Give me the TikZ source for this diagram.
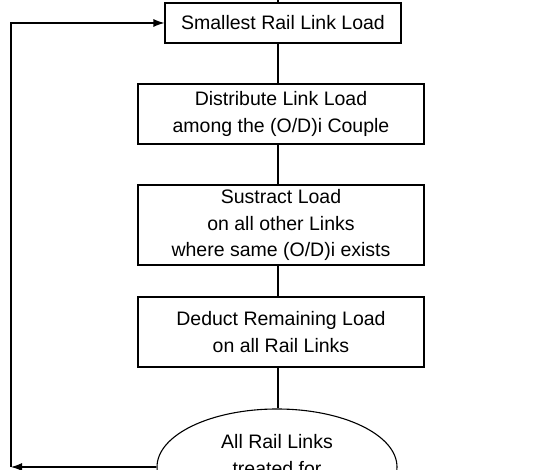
\documentclass[tikz,border=0pt]{standalone}
\usepackage{fontspec}
\setmainfont{Liberation Sans}
\usetikzlibrary{shapes.geometric,arrows.meta}

\begin{document}
\begin{tikzpicture}[
		x = 1pt, y = -1pt,
		line width = 1.1pt,
		every node/.style = {font = \fontsize{19.5}{26.5}\selectfont},
		box/.style = {draw, align = center, inner sep = 0, minimum width = 286pt},
		arr/.style = {-{Latex[length=11pt,width=8pt]}}
	]

	\useasboundingbox (0,0) rectangle (542,470);

	\coordinate (top) at (278,-2);
	\coordinate (corner) at (11,467);

	\node[box, minimum width = 236pt, minimum height = 40pt] (smallest) at (283,23) {Smallest Rail Link Load};
	\node[box, minimum height = 60pt] (distribute) at (281,114) {Distribute Link Load\\among the (O/D)i Couple};
	\node[box, minimum height = 80pt] (sustract) at (281,225) {Sustract Load\\on all other Links\\where same (O/D)i exists};
	\node[box, minimum height = 70pt] (deduct) at (281,332) {Deduct Remaining Load\\on all Rail Links};
	\node[draw, ellipse, minimum width = 240pt, minimum height = 116pt] (treated) at (277,467) {};
	\node[align = center] (treatedtext) at (277,455) {All Rail Links\\treated for};

	\draw (top) -- (smallest.north -| top);
	\draw (smallest.south -| top) -- (distribute.north -| top);
	\draw (distribute.south -| top) -- (sustract.north -| top);
	\draw (sustract.south -| top) -- (deduct.north -| top);
	\draw (deduct.south -| top) -- (treated.north -| top);

	\draw[arr] (treated.west) -- (corner);
	\draw[arr] (corner) |- (smallest.west);

\end{tikzpicture}
\end{document}
